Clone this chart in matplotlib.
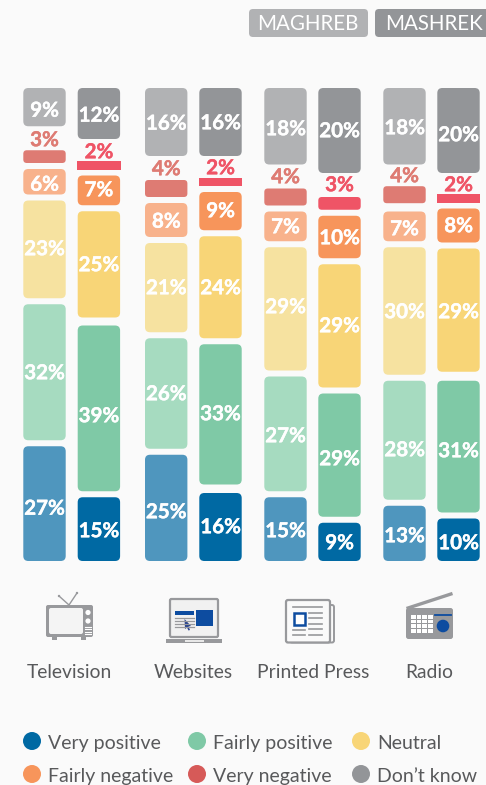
import matplotlib
matplotlib.use("Agg")
import matplotlib.pyplot as plt
import matplotlib.patheffects as pe
from matplotlib.patches import FancyBboxPatch, Rectangle, Circle, Polygon

plt.rcParams['font.family'] = ['Lato', 'DejaVu Sans']

media = ["Television", "Websites", "Printed Press", "Radio"]
regions = ["MAGHREB", "MASHREK"]
sentiments = ["Very positive", "Fairly positive", "Neutral", "Fairly negative", "Very negative", "Don\u2019t know"]

maghreb_very_positive = [27, 25, 15, 13]
maghreb_fairly_positive = [32, 26, 27, 28]
maghreb_neutral = [23, 21, 29, 30]
maghreb_fairly_negative = [6, 8, 7, 7]
maghreb_very_negative = [3, 4, 4, 4]
maghreb_dont_know = [9, 16, 18, 18]

mashrek_very_positive = [15, 16, 9, 10]
mashrek_fairly_positive = [39, 33, 29, 31]
mashrek_neutral = [25, 24, 29, 29]
mashrek_fairly_negative = [7, 9, 10, 8]
mashrek_very_negative = [2, 2, 3, 2]
mashrek_dont_know = [12, 16, 20, 20]

maghreb = [maghreb_very_positive, maghreb_fairly_positive, maghreb_neutral,
           maghreb_fairly_negative, maghreb_very_negative, maghreb_dont_know]
mashrek = [mashrek_very_positive, mashrek_fairly_positive, mashrek_neutral,
           mashrek_fairly_negative, mashrek_very_negative, mashrek_dont_know]

colors_mashrek = ["#0069A3", "#7FC9A6", "#F8D577", "#F7955B", "#EF5466", "#939598"]
colors_maghreb = ["#4F96BE", "#A6DBC0", "#F6E2A0", "#F8B28C", "#DE7B73", "#B1B2B4"]
legend_colors = ["#0069A3", "#7FC9A6", "#F8D577", "#F7955B", "#D65A58", "#939598"]

BG = "#FAFAFA"
TXT = "#58595B"
W, H = 486, 785
PX_PER_PCT = 4.25
fig = plt.figure(figsize=(W / 100, H / 100), dpi=100, facecolor=BG)

# overlay in pixel space for header, icons, legend and label placement
ov = fig.add_axes([0, 0, 1, 1], facecolor=BG)
ov.set_xlim(0, W); ov.set_ylim(H, 0); ov.axis("off")

# chart axes: x in pixels, y in percent; baseline at px 561
ax = fig.add_axes([0, (H - 561) / H, 1, 561 / H], facecolor="none")
ax.set_xlim(0, W); ax.set_ylim(0, 561 / PX_PER_PCT); ax.axis("off")

BAR_W = 42.4
# layout: left edge, spacing between segments (px, bottom to top), label heights (px, bottom to top)
columns = [
    (23.3, [6, 6, 6, 6, 24],      [507.5, 372, 248, 183.5, 139, 109.5], 0),
    (77.7, [6, 8, 6, 6, 22],      [530, 415, 264, 189, 151, 114.5], 0),
    (145,  [6, 6, 6, 6, 24],      [511, 393, 287, 220.5, 168, 122.5], 1),
    (199.3, [8.5, 6, 6, 6, 21.5], [526, 413, 287, 210, 167, 122], 1),
    (264.3, [6, 6, 6, 6, 24],     [530, 435, 306, 226, 176, 128], 2),
    (318.3, [6, 6, 6, 6, 24],     [542, 458, 325, 237, 184, 130], 2),
    (383.3, [6, 6, 6, 8.3, 21.7], [535, 449, 311, 228, 175, 127], 3),
    (437.3, [6, 9, 6, 6, 21],     [542, 450, 311, 225, 184, 134], 3),
]

for n, (x, gaps, label_y, i) in enumerate(columns):
    is_mash = n % 2 == 1
    series = mashrek if is_mash else maghreb
    colors = colors_mashrek if is_mash else colors_maghreb
    bottom = 0
    for k, row in enumerate(series):
        v = row[i]
        if v == 2:
            ax.add_patch(Rectangle((x - 0.6, bottom), BAR_W + 1.2, v, fc=colors[k], ec="none"))
        else:
            r = 3.5 if v <= 4 else 5
            ax.add_patch(FancyBboxPatch((x, bottom), BAR_W, v,
                                        boxstyle=f"round,pad=0,rounding_size={r}",
                                        mutation_aspect=1 / PX_PER_PCT, fc=colors[k], ec="none"))
        c = colors[k] if k == 4 else "white"
        t = ov.text(x + BAR_W / 2, label_y[k] + 7.2, f"{v}%", color=c, fontsize=14.8,
                    fontweight="bold", ha="center", va="baseline", zorder=5)
        t.set_path_effects([pe.withStroke(linewidth=0.3, foreground=c)])
        if k < 5:
            bottom += v + gaps[k] / PX_PER_PCT

ov.set_zorder(ax.get_zorder() + 1)
ov.patch.set_alpha(0)

# header tags
for (x0, x1, name, c, tx) in [(249, 368, regions[0], colors_maghreb[5], 308),
                              (375, 492, regions[1], colors_mashrek[5], 433.5)]:
    ov.add_patch(FancyBboxPatch((x0, 9), x1 - x0, 28, boxstyle="round,pad=0,rounding_size=4", fc=c, ec="none"))
    ov.text(tx, 23.5, name, color="white", fontsize=14.8, ha="center", va="center")

G = "#98999C"
B = "#0D4CA0"
# TV
ov.plot([69, 59], [605, 596], color=G, lw=1); ov.plot([69, 77], [605, 593], color=G, lw=1)
ov.add_patch(Circle((59, 596), 1.2, fc=G, ec="none")); ov.add_patch(Circle((77, 593), 1.2, fc=G, ec="none"))
ov.add_patch(FancyBboxPatch((46, 605), 47, 32, boxstyle="round,pad=0,rounding_size=2", fc=G, ec="none"))
ov.add_patch(FancyBboxPatch((49, 608), 34, 26, boxstyle="round,pad=0,rounding_size=2", fc="#F4F4F4", ec="none"))
ov.add_patch(Circle((88, 612.5), 2.6, fc="white", ec="none")); ov.add_patch(Circle((88, 621), 2.6, fc="white", ec="none"))
for y in (627, 629.3, 631.6, 633.9):
    ov.plot([85, 91], [y, y], color="white", lw=0.8)
ov.add_patch(Rectangle((52, 637), 5, 3, fc=G, ec="none")); ov.add_patch(Rectangle((81, 637), 5, 3, fc=G, ec="none"))
# Laptop
ov.add_patch(FancyBboxPatch((170, 599), 48, 38, boxstyle="round,pad=0,rounding_size=1.5", fc="#F1F1F1", ec=G, lw=1.6))
ov.add_patch(Rectangle((166, 639), 56, 4, fc=G, ec="none"))
ov.add_patch(Rectangle((185, 640), 19, 2, fc="#E8E8E8", ec="none"))
ov.add_patch(Rectangle((175, 611), 19, 4, fc=B, ec="none"))
for y in (617.5, 620.5, 623.5, 626.5):
    ov.plot([175, 194], [y, y], color=G, lw=0.9)
ov.add_patch(Rectangle((196, 610), 17, 16, fc=B, ec="none"))
ov.add_patch(Polygon([(184.5, 619), (191, 626), (188.5, 626.5), (190, 630), (188.5, 630.5), (187, 627.5), (185, 629)], fc="#24408F", ec="none"))
# Newspaper
ov.add_patch(FancyBboxPatch((290, 605), 44, 37.5, boxstyle="round,pad=0,rounding_size=2", fc=BG, ec=G, lw=1.4))
ov.add_patch(FancyBboxPatch((286, 600), 44, 42.5, boxstyle="round,pad=0,rounding_size=2", fc=BG, ec=G, lw=1.6))
ov.add_patch(Rectangle((293.5, 613), 11.5, 11.5, fc="white", ec=B, lw=1.8))
ov.plot([293, 322], [607, 607], color=G, lw=1.2)
for y in (613, 618, 623.5, 629):
    ov.plot([309, 322], [y, y], color=G, lw=1.2)
for y in (629.5, 634.5):
    ov.plot([293, 305], [y, y], color=G, lw=1.2)
ov.plot([309, 322], [634.5, 634.5], color=G, lw=1.2)
# Radio
ov.plot([406.5, 452.5], [608.5, 593.5], color=G, lw=2.4, solid_capstyle="butt")
ov.add_patch(FancyBboxPatch((406, 608), 47, 31, boxstyle="round,pad=0,rounding_size=2.5", fc=G, ec="none"))
for cx in range(4):
    for cy in range(4):
        ov.add_patch(Rectangle((411 + cx * 5.7, 615 + cy * 4.7), 4.6, 3.7, fc="white", ec="none"))
ov.plot([435, 451], [615, 615], color=B, lw=1.3)
ov.add_patch(Circle((443, 626), 6.3, fc=B, ec="none"))

for name, x, y in zip(media, [69, 193, 313, 429], [673, 673, 673, 672]):
    ov.text(x, y, name, color=TXT, fontsize=13.9, ha="center", va="center")

# legend
leg_x = [32, 197, 361]
for j, (name, c) in enumerate(zip(sentiments, legend_colors)):
    x = leg_x[j % 3]
    y = 741 if j < 3 else 774
    ov.add_patch(Circle((x, y), 9, fc=c, ec="none"))
    ov.text(x + 16, y + 2.2, name, color=TXT, fontsize=14, ha="left", va="center")

fig.savefig("out.png", dpi=100, facecolor=BG)
